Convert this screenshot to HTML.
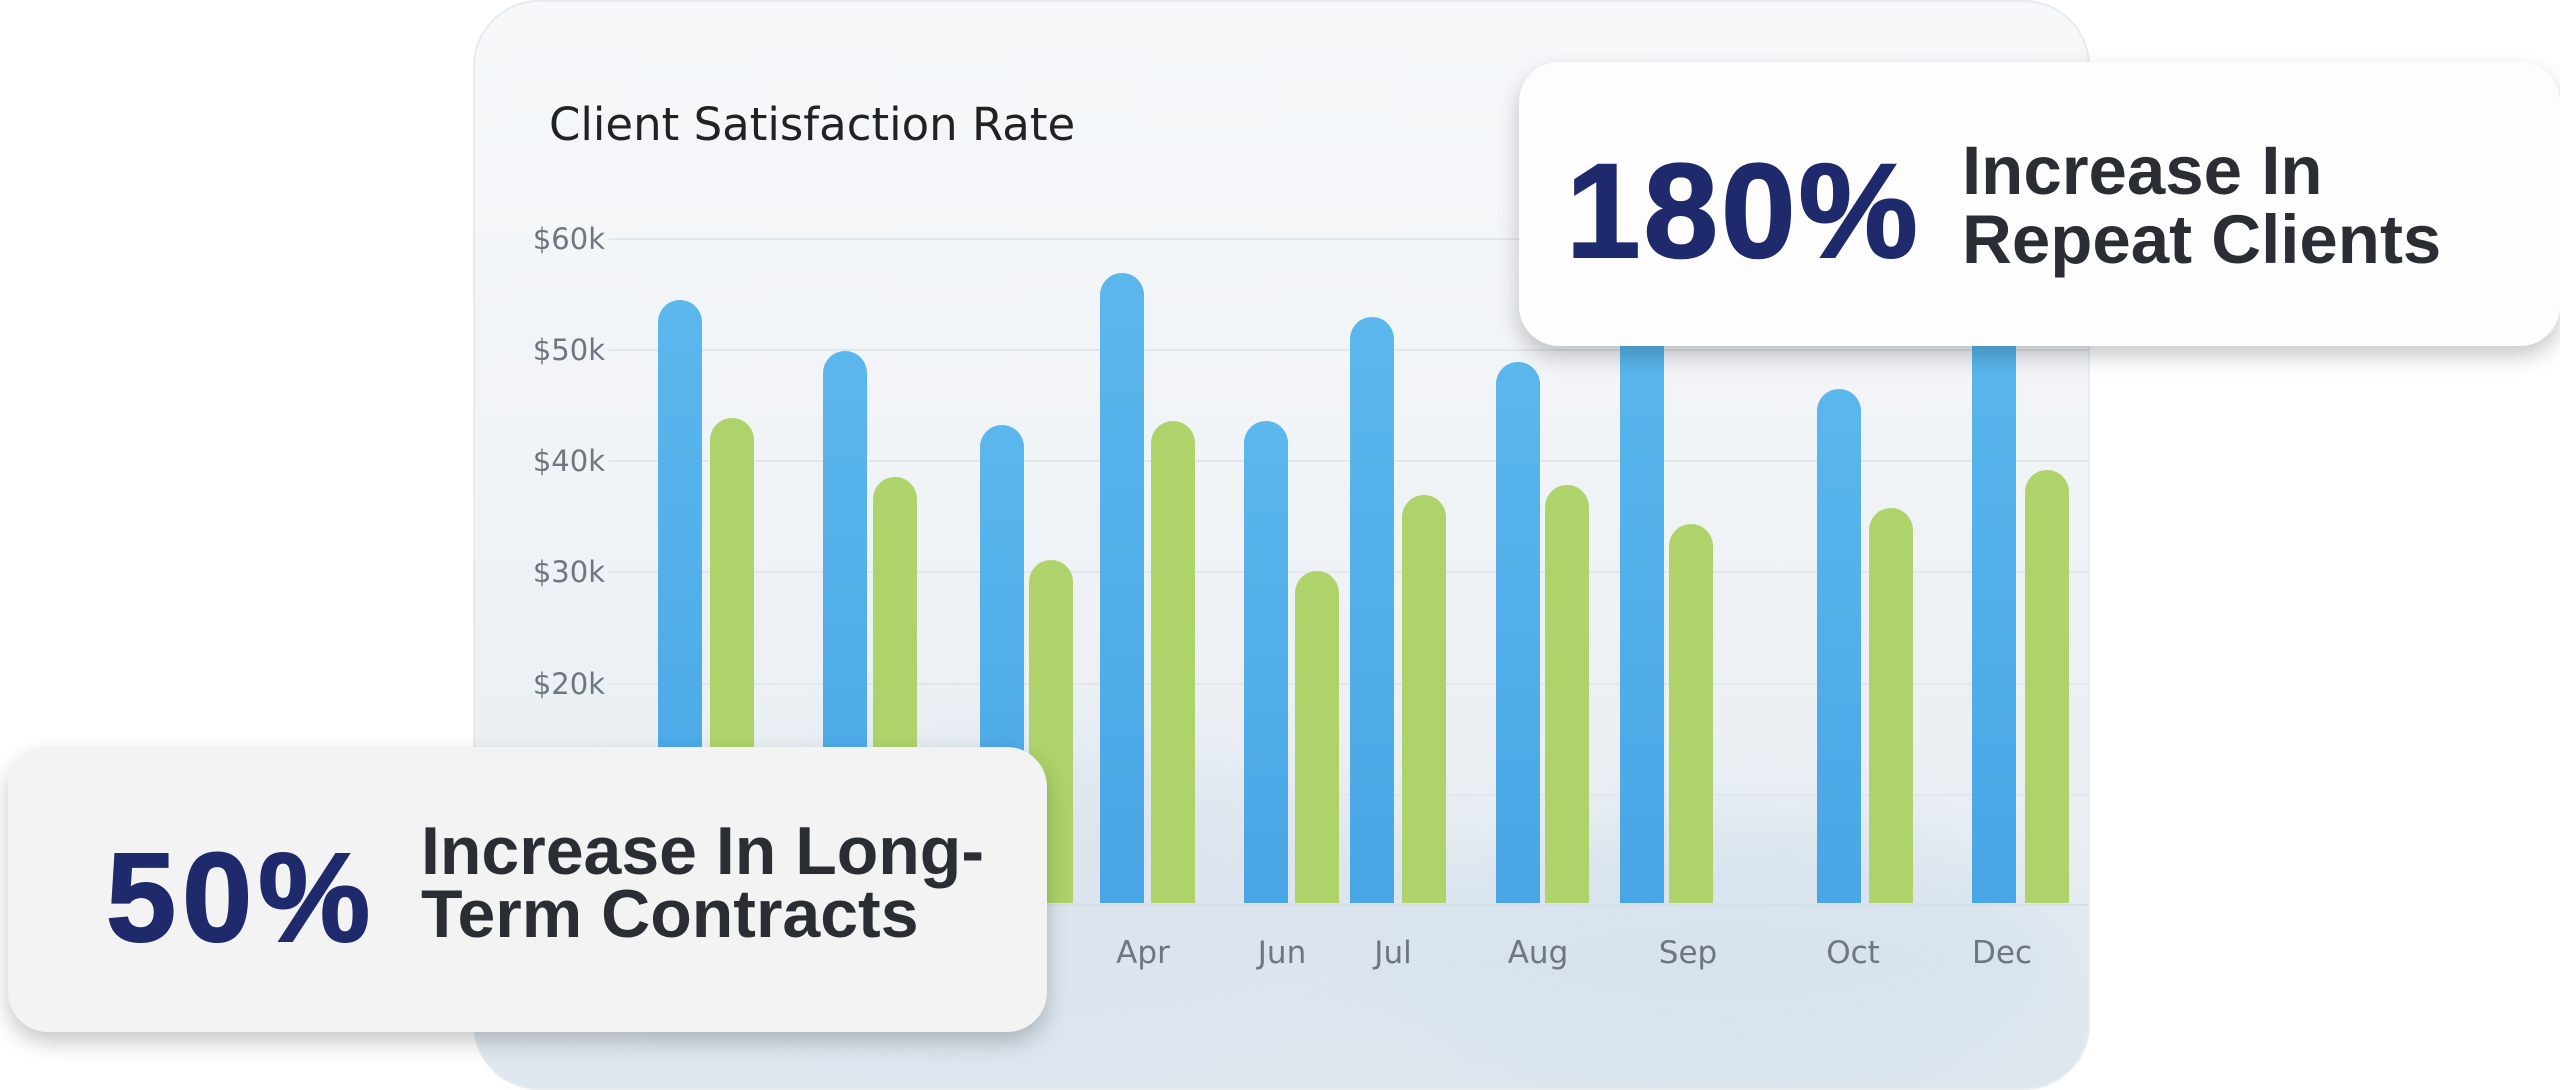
<!DOCTYPE html>
<html><head><meta charset="utf-8"><style>
*{margin:0;padding:0;box-sizing:border-box}
body{width:2560px;height:1090px;background:#fff;position:relative;overflow:hidden;font-family:"Liberation Sans",sans-serif}
.main{position:absolute;left:473px;top:0;width:1617px;height:1090px;border-radius:66px;overflow:hidden;
background:linear-gradient(180deg,#f6f8fa 0%,#f1f4f7 40%,#eaeff4 75%,#dfe7ee 100%);border:2px solid #e6ebf0}
.blob{position:absolute;border-radius:50%;filter:blur(40px)}
.g{position:absolute;left:134px;width:1480px;height:2px;background:#e2e7ed}
.yl{position:absolute;left:30px;width:100px;text-align:right;font-family:"DejaVu Sans",sans-serif;font-size:29px;color:#6f7680;line-height:30px}
.bar{position:absolute;width:44px;border-radius:22px 22px 0 0}
.b{background:linear-gradient(180deg,#5bb7ec,#48a6e6)}
.gr{background:#aed36a}
.m{position:absolute;top:936px;font-family:"DejaVu Sans",sans-serif;font-size:31px;color:#6f7680;transform:translateX(-50%);line-height:34px}
.card{position:absolute;border-radius:40px}
.big{font-weight:bold;color:#1e2a6c;white-space:nowrap;-webkit-text-stroke:2px #1e2a6c}
</style></head><body>
<div class="main">
  <div class="blob" style="left:100px;top:750px;width:900px;height:350px;background:#dce5ee"></div>
  <div class="blob" style="left:900px;top:820px;width:700px;height:280px;background:#d8e3ed"></div>
  <div style="position:absolute;left:74px;top:100px;font-family:'DejaVu Sans',sans-serif;font-size:45px;color:#222;line-height:46px;white-space:nowrap">Client Satisfaction Rate</div>
  <div class="g" style="top:236px"></div><div class="yl" style="top:222px">$60k</div>
  <div class="g" style="top:347px"></div><div class="yl" style="top:333px">$50k</div>
  <div class="g" style="top:458px"></div><div class="yl" style="top:444px">$40k</div>
  <div class="g" style="top:569px"></div><div class="yl" style="top:555px">$30k</div>
  <div class="g" style="top:681px"></div><div class="yl" style="top:667px">$20k</div>
  <div class="g" style="top:792px"></div>
  <div class="g" style="top:902px;background:#d8dee5"></div>
</div>
<div class="bar b" style="left:658px;top:300px;height:603px"></div>
<div class="bar gr" style="left:710px;top:418px;height:485px"></div>
<div class="bar b" style="left:823px;top:351px;height:552px"></div>
<div class="bar gr" style="left:873px;top:477px;height:426px"></div>
<div class="bar b" style="left:980px;top:425px;height:478px"></div>
<div class="bar gr" style="left:1029px;top:560px;height:343px"></div>
<div class="bar b" style="left:1100px;top:273px;height:630px"></div>
<div class="bar gr" style="left:1151px;top:421px;height:482px"></div>
<div class="bar b" style="left:1244px;top:421px;height:482px"></div>
<div class="bar gr" style="left:1295px;top:571px;height:332px"></div>
<div class="bar b" style="left:1350px;top:317px;height:586px"></div>
<div class="bar gr" style="left:1402px;top:495px;height:408px"></div>
<div class="bar b" style="left:1496px;top:362px;height:541px"></div>
<div class="bar gr" style="left:1545px;top:485px;height:418px"></div>
<div class="bar b" style="left:1620px;top:300px;height:603px"></div>
<div class="bar gr" style="left:1669px;top:524px;height:379px"></div>
<div class="bar b" style="left:1817px;top:389px;height:514px"></div>
<div class="bar gr" style="left:1869px;top:508px;height:395px"></div>
<div class="bar b" style="left:1972px;top:300px;height:603px"></div>
<div class="bar gr" style="left:2025px;top:470px;height:433px"></div>
<div class="m" style="left:1143px">Apr</div>
<div class="m" style="left:1282px">Jun</div>
<div class="m" style="left:1393px">Jul</div>
<div class="m" style="left:1538px">Aug</div>
<div class="m" style="left:1688px">Sep</div>
<div class="m" style="left:1853px">Oct</div>
<div class="m" style="left:2002px">Dec</div>

<div class="card" style="left:1519px;top:62px;width:1041px;height:284px;background:#fdfdfd;box-shadow:0 10px 22px rgba(0,0,0,0.22)">
  <div class="big" style="position:absolute;left:47px;top:83px;font-size:134px;line-height:134px;letter-spacing:3px">180%</div>
  <div style="position:absolute;left:443px;top:74px;font-size:69px;line-height:69px;font-weight:bold;color:#2a2d33;white-space:nowrap">Increase In<br>Repeat Clients</div>
</div>
<div class="card" style="left:8px;top:747px;width:1039px;height:285px;background:#f3f3f3;box-shadow:0 10px 22px rgba(0,0,0,0.22)">
  <div class="big" style="position:absolute;left:98px;top:88px;font-size:126px;line-height:126px;letter-spacing:6px">50%</div>
  <div style="position:absolute;left:413px;top:73px;font-size:68px;line-height:63px;font-weight:bold;color:#2a2d33;white-space:nowrap">Increase In Long-<br>Term Contracts</div>
</div>
</body></html>
